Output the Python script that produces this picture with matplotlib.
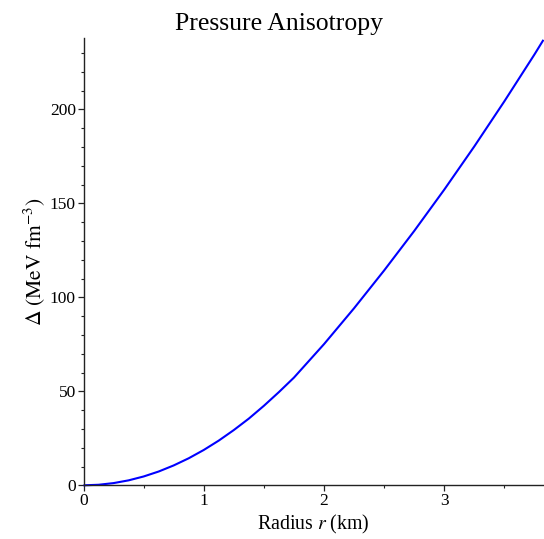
import numpy as np
import matplotlib
matplotlib.use("Agg")
import matplotlib.pyplot as plt
import matplotlib.ticker as mticker

# Values
radius_km = [0.0, 0.125, 0.25, 0.375, 0.5, 0.625, 0.75, 0.875, 1.0, 1.125,
             1.25, 1.375, 1.5, 1.625, 1.75, 2.0, 2.25, 2.5, 2.75, 3.0,
             3.25, 3.5, 3.75, 3.825]
anisotropy = [0.0, 0.29, 1.18, 2.64, 4.7, 7.34, 10.58, 14.39, 18.8, 23.8,
              29.4, 35.5, 42.3, 49.6, 57.3, 75.1, 94.2, 114.3, 135.3, 157.3,
              180.3, 204.3, 229.2, 237.0]

plt.rcParams.update({
    "font.family": "Liberation Serif",
    "mathtext.fontset": "stix",
})

fig = plt.figure(figsize=(5.44, 5.39), dpi=100)
ax = fig.add_axes([0.1535, 0.0996, 0.8455, 0.8300])

ax.plot(radius_km, anisotropy, color="#0000ff", linewidth=1.5,
        solid_capstyle="butt", solid_joinstyle="round", clip_on=False)

ax.set_xlim(0, 3.825)
ax.set_ylim(0, 238)

for side in ("top", "right"):
    ax.spines[side].set_visible(False)
for side in ("left", "bottom"):
    ax.spines[side].set_linewidth(1.0)
    ax.spines[side].set_color("#222222")

ax.xaxis.set_major_locator(mticker.MultipleLocator(1))
ax.xaxis.set_minor_locator(mticker.MultipleLocator(0.5))
ax.yaxis.set_major_locator(mticker.MultipleLocator(50))
ax.yaxis.set_minor_locator(mticker.MultipleLocator(10))
ax.tick_params(which="major", direction="out", length=4, width=0.9,
               labelsize=12.5, pad=1.5, color="#222222")
ax.tick_params(which="minor", direction="out", length=2.2, width=0.8,
               color="#222222")

ax.set_xlabel(r"Radius $r$ (km)", fontsize=14.3, labelpad=3)
ax.set_ylabel(r"$\Delta\ \left(\mathrm{MeV\ fm}^{-3}\right)$", fontsize=15.5,
              labelpad=2)
fig.text(0.512, 0.944, "Pressure Anisotropy", ha="center", va="baseline",
         fontsize=18.5)

fig.savefig("out.png", dpi=100)
